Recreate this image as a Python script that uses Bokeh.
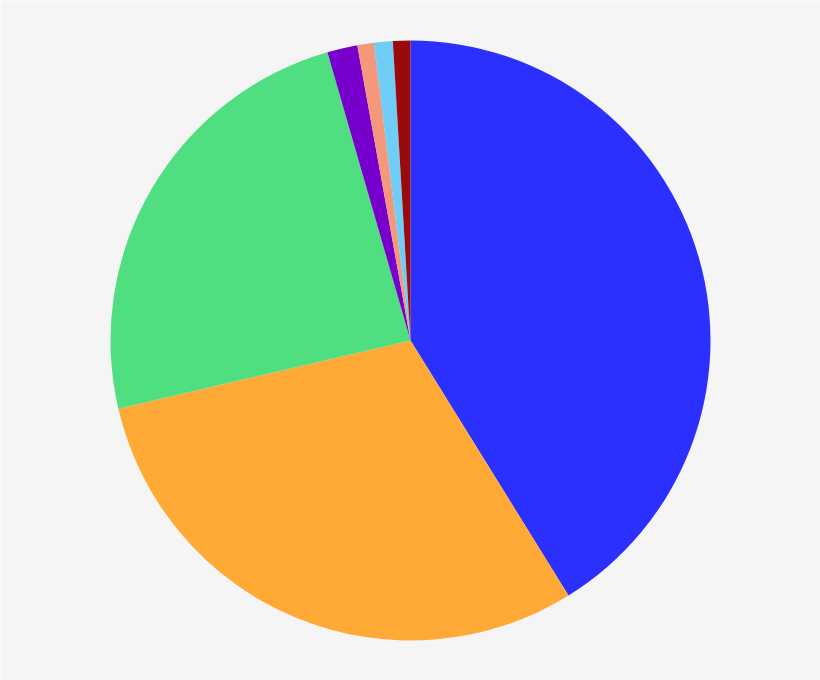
import math
from bokeh.plotting import figure
from bokeh.models import Range1d
from bokeh.embed import file_html
from bokeh.resources import INLINE

categories = ["Blue", "Orange", "Green", "Purple", "Salmon", "Light blue", "Dark red"]
values = [41.2, 30.2, 24.2, 1.63, 0.89, 1.01, 0.94]
colors = ["#2b30ff", "#ffaa36", "#50df80", "#7700cc", "#f4977a", "#6fcdf6", "#990b0b"]

total = sum(values)
starts, ends = [], []
acc = 0.0
for v in values:
    a0 = math.pi / 2 - 2 * math.pi * acc / total
    acc += v
    a1 = math.pi / 2 - 2 * math.pi * acc / total
    starts.append(a0)
    ends.append(a1)

W, H = 820, 680
p = figure(width=W, height=H, output_backend="svg", toolbar_location=None,
           x_range=Range1d(0, W), y_range=Range1d(0, H), min_border=0)
p.axis.visible = False
p.grid.visible = False
p.outline_line_color = None
p.background_fill_color = "#f5f5f5"
p.border_fill_color = "#f5f5f5"

p.wedge(x=[410] * len(values), y=[340] * len(values), radius=300,
        start_angle=starts, end_angle=ends, direction="clock",
        fill_color=colors, line_color=None)

open("out.html", "w").write(file_html(p, INLINE))
